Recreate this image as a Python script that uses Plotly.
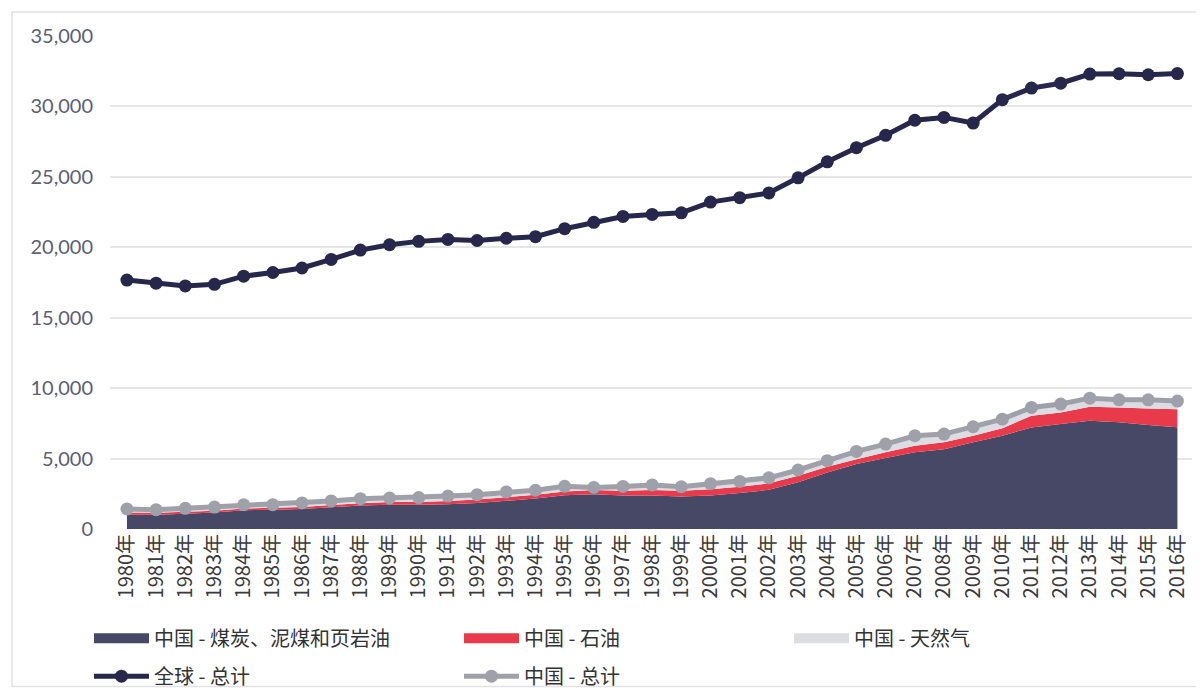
import plotly.graph_objects as go

years = [f"{y}年" for y in range(1980, 2017)]

global_total = [17670, 17450, 17260, 17370, 17950, 18210, 18530, 19140, 19800, 20180,
                20420, 20560, 20480, 20640, 20750, 21320, 21770, 22190, 22330, 22450,
                23210, 23520, 23860, 24930, 26070, 27070, 27950, 29020, 29220, 28820,
                30480, 31300, 31650, 32300, 32320, 32250, 32330]

china_coal = [1020, 1020, 1090, 1180, 1330, 1370, 1420, 1540, 1660, 1730,
              1720, 1760, 1850, 2000, 2160, 2390, 2460, 2380, 2370, 2300,
              2370, 2550, 2780, 3320, 4020, 4610, 5040, 5440, 5670, 6150,
              6620, 7210, 7450, 7680, 7570, 7380, 7230]

china_oil = [150, 140, 130, 120, 120, 130, 150, 160, 170, 180,
             200, 220, 250, 260, 270, 280, 300, 340, 400, 420,
             460, 450, 460, 460, 400, 350, 400, 470, 480, 470,
             540, 830, 820, 1000, 1060, 1180, 1280]

china_gas = [250, 210, 250, 260, 270, 230, 280, 290, 320, 290,
             310, 360, 340, 370, 320, 360, 190, 300, 360, 280,
             390, 380, 390, 410, 430, 550, 590, 710, 590, 640,
             640, 590, 600, 610, 540, 610, 570]

china_total = [1420, 1370, 1470, 1560, 1720, 1730, 1850, 1990, 2150, 2200,
               2230, 2340, 2440, 2630, 2750, 3030, 2950, 3020, 3130, 3000,
               3220, 3380, 3630, 4190, 4850, 5510, 6030, 6620, 6740, 7260,
               7800, 8630, 8870, 9290, 9170, 9170, 9080]

y_ticks = [0, 5000, 10000, 15000, 20000, 25000, 30000, 35000]

names = ["中国 - 煤炭、泥煤和页岩油", "中国 - 石油", "中国 - 天然气", "全球 - 总计", "中国 - 总计"]
c_coal, c_oil, c_gas, c_global, c_china = "#474866", "#e83a4a", "#dcdde3", "#26274b", "#9fa1aa"

fig = go.Figure()
# stacked areas (legend shown through proxies with a thicker swatch)
for vals, col in [(china_coal, c_coal), (china_oil, c_oil), (china_gas, c_gas)]:
    fig.add_trace(go.Scatter(x=years, y=vals, stackgroup="china", mode="none",
                             fillcolor=col, showlegend=False, hoverinfo="skip"))
fig.add_trace(go.Scatter(x=years, y=china_total, mode="lines+markers", showlegend=False,
                         line=dict(color=c_china, width=5), marker=dict(size=13, color=c_china)))
fig.add_trace(go.Scatter(x=years, y=global_total, mode="lines+markers", showlegend=False,
                         line=dict(color=c_global, width=5), marker=dict(size=13, color=c_global)))

# legend entries: column 1, column 2, column 3
fig.add_trace(go.Scatter(x=[None], y=[None], mode="lines", name=names[0], legend="legend",
                         legendgroup="a", line=dict(color=c_coal, width=14)))
fig.add_trace(go.Scatter(x=[None], y=[None], mode="lines+markers", name=names[3], legend="legend",
                         legendgroup="b", line=dict(color=c_global, width=5),
                         marker=dict(size=13, color=c_global)))
fig.add_trace(go.Scatter(x=[None], y=[None], mode="lines", name=names[1], legend="legend2",
                         legendgroup="c", line=dict(color=c_oil, width=14)))
fig.add_trace(go.Scatter(x=[None], y=[None], mode="lines+markers", name=names[4], legend="legend2",
                         legendgroup="d", line=dict(color=c_china, width=5),
                         marker=dict(size=13, color=c_china)))
fig.add_trace(go.Scatter(x=[None], y=[None], mode="lines", name=names[2], legend="legend3",
                         legendgroup="e", line=dict(color=c_gas, width=14)))

OFF = 8  # page body margin
W, H = 1204 - OFF, 689 - OFF
L, T = 110 - OFF, 36 - OFF
plot_bottom = 529.3 - OFF
plot_right = 1192 - OFF
R, B = W - plot_right, H - plot_bottom
pw, ph = W - L - R, H - T - B

def px(x):
    return (x - OFF - L) / pw

def py(y):
    return (H - B - (y - OFF)) / ph

legend_common = dict(orientation="v", xanchor="left", yanchor="top", itemwidth=55,
                     tracegroupgap=9, traceorder="grouped",
                     font=dict(family="Noto Sans CJK SC", size=20, color="#333333"),
                     bgcolor="rgba(0,0,0,0)")
ly = py(619)
fig.update_layout(
    width=W, height=H,
    margin=dict(l=L, r=R, t=T, b=B, autoexpand=False),
    paper_bgcolor="white", plot_bgcolor="white",
    showlegend=True,
    legend=dict(x=px(89), y=ly, **legend_common),
    legend2=dict(x=px(459), y=ly, **legend_common),
    legend3=dict(x=px(789), y=ly, **legend_common),
    xaxis=dict(type="category", range=[-0.58, 36.5], tickangle=-90, showgrid=False,
               showline=False, zeroline=False, ticks="",
               tickfont=dict(family="Noto Sans CJK SC", size=20, color="#3a3a3a")),
    yaxis=dict(range=[0, 35000], tickvals=y_ticks, tickformat=",", showgrid=True,
               gridcolor="#e6e6e6", gridwidth=1.5, zeroline=False, showline=False,
               ticklabelstandoff=16,
               tickfont=dict(family="Lato", size=20, color="#5b5f73")),
    shapes=[dict(type="rect", xref="paper", yref="paper",
                 x0=px(12), x1=px(1215), y0=py(687), y1=py(12),
                 line=dict(color="#e2e2e2", width=1.5), fillcolor="rgba(0,0,0,0)", layer="below")],
)

fig.write_html("out.html")
